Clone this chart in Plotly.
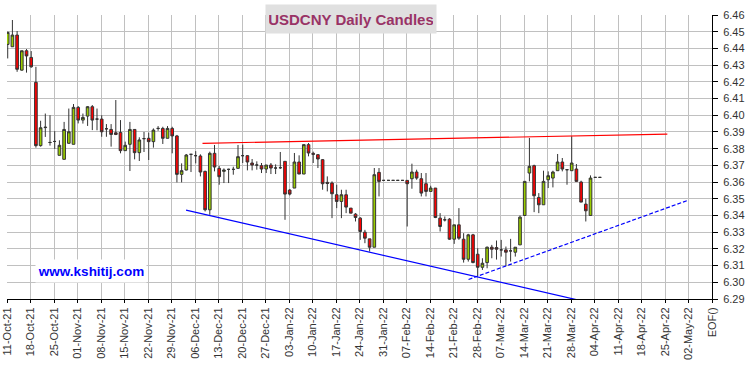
import plotly.graph_objects as go

# ---- data ----
# trading-day index 0 = Mon 11-Oct-21, weekdays only
open_ = [6.4424, 6.4410, 6.4480, 6.4270, 6.4386, 6.4346, 6.4197, 6.3818, 6.3926, 6.3837,
         6.3843, 6.3760, 6.3736, 6.3832, 6.3826, 6.4047, 6.3971, 6.3995, 6.4051, 6.3977,
         6.3977, 6.3919, 6.3915, 6.3895, 6.3897, 6.3788, 6.3826, 6.3915, 6.3776, 6.3860,
         6.3862, 6.3842, 6.3921, 6.3921, 6.3862, 6.3921, 6.3876, 6.3646, 6.3672, 6.3766,
         6.3758, 6.3756, 6.3664, 6.3434, 6.3772, 6.3682, 6.3664, 6.3676, 6.3676, 6.3682,
         6.3758, 6.3758, 6.3714, 6.3702, 6.3698, 6.3678, 6.3702, 6.3684, 6.3686, 6.3724,
         6.3552, 6.3564, 6.3720, 6.3648, 6.3824, 6.3772, 6.3764, 6.3734, 6.3598, 6.3594,
         6.3524, 6.3484, 6.3524, 6.3444, 6.3408, 6.3384, 6.3300, 6.3260, 6.3210, 6.3658,
         6.3610, 6.3610, 6.3610, 6.3610, 6.3610, 6.3610, 6.3620, 6.3660, 6.3620, 6.3590,
         6.3544, 6.3564, 6.3384, 6.3374, 6.3378, 6.3258, 6.3344, 6.3258, 6.3138, 6.3284,
         6.3168, 6.3090, 6.3118, 6.3210, 6.3208, 6.3194, 6.3194, 6.3188, 6.3180, 6.3224,
         6.3400, 6.3654, 6.3698, 6.3508, 6.3464, 6.3614, 6.3624, 6.3668, 6.3720, 6.3674,
         6.3668, 6.3678, 6.3600, 6.3468, 6.3400, 6.3628, 6.3628]
high = [6.4500, 6.4570, 6.4504, 6.4386, 6.4396, 6.4384, 6.4290, 6.3967, 6.4010, 6.4000,
        6.3905, 6.3850, 6.3960, 6.4040, 6.4067, 6.4055, 6.4010, 6.4055, 6.4061, 6.4040,
        6.4000, 6.3947, 6.3947, 6.4091, 6.3971, 6.3842, 6.3960, 6.3915, 6.3868, 6.3900,
        6.3896, 6.3921, 6.3935, 6.3931, 6.3935, 6.3931, 6.3882, 6.3712, 6.3768, 6.3768,
        6.3785, 6.3766, 6.3668, 6.3782, 6.3822, 6.3696, 6.3682, 6.3680, 6.3692, 6.3822,
        6.3824, 6.3760, 6.3738, 6.3724, 6.3714, 6.3702, 6.3714, 6.3706, 6.3780, 6.3724,
        6.3558, 6.3774, 6.3760, 6.3824, 6.3834, 6.3782, 6.3766, 6.3738, 6.3634, 6.3604,
        6.3584, 6.3554, 6.3554, 6.3444, 6.3414, 6.3390, 6.3314, 6.3260, 6.3684, 6.3684,
        6.3610, 6.3610, 6.3610, 6.3610, 6.3610, 6.3610, 6.3710, 6.3674, 6.3654, 6.3654,
        6.3578, 6.3564, 6.3414, 6.3394, 6.3384, 6.3344, 6.3444, 6.3294, 6.3290, 6.3290,
        6.3204, 6.3144, 6.3214, 6.3224, 6.3250, 6.3254, 6.3214, 6.3260, 6.3210, 6.3400,
        6.3604, 6.3864, 6.3704, 6.3534, 6.3668, 6.3664, 6.3668, 6.3768, 6.3744, 6.3674,
        6.3874, 6.3708, 6.3608, 6.3500, 6.3640, 6.3628, 6.3628]
low = [6.4340, 6.4410, 6.4260, 6.4267, 6.4255, 6.4284, 6.3806, 6.3812, 6.3870, 6.3818,
       6.3798, 6.3760, 6.3736, 6.3830, 6.3826, 6.3951, 6.3950, 6.3936, 6.3911, 6.3910,
       6.3871, 6.3871, 6.3812, 6.3881, 6.3772, 6.3788, 6.3666, 6.3736, 6.3726, 6.3780,
       6.3732, 6.3806, 6.3907, 6.3828, 6.3862, 6.3772, 6.3598, 6.3598, 6.3670, 6.3660,
       6.3712, 6.3634, 6.3424, 6.3404, 6.3664, 6.3584, 6.3594, 6.3594, 6.3644, 6.3682,
       6.3714, 6.3670, 6.3670, 6.3674, 6.3654, 6.3654, 6.3648, 6.3648, 6.3678, 6.3374,
       6.3520, 6.3564, 6.3648, 6.3648, 6.3754, 6.3714, 6.3684, 6.3554, 6.3544, 6.3384,
       6.3444, 6.3384, 6.3414, 6.3414, 6.3364, 6.3254, 6.3234, 6.3184, 6.3210, 6.3514,
       6.3610, 6.3610, 6.3610, 6.3610, 6.3610, 6.3334, 6.3560, 6.3614, 6.3514, 6.3514,
       6.3544, 6.3384, 6.3304, 6.3364, 6.3254, 6.3230, 6.3254, 6.3118, 6.3124, 6.3114,
       6.3038, 6.3074, 6.3084, 6.3144, 6.3136, 6.3154, 6.3100, 6.3124, 6.3154, 6.3224,
       6.3400, 6.3604, 6.3420, 6.3414, 6.3464, 6.3564, 6.3568, 6.3668, 6.3664, 6.3584,
       6.3668, 6.3604, 6.3480, 6.3364, 6.3400, 6.3628, 6.3628]
close = [6.4496, 6.4480, 6.4275, 6.4386, 6.4355, 6.4290, 6.3818, 6.3925, 6.3928, 6.3837,
         6.3843, 6.3820, 6.3915, 6.3901, 6.4047, 6.3971, 6.3987, 6.4051, 6.3971, 6.3977,
         6.3901, 6.3919, 6.3885, 6.3885, 6.3788, 6.3820, 6.3915, 6.3776, 6.3852, 6.3860,
         6.3842, 6.3911, 6.3921, 6.3862, 6.3921, 6.3876, 6.3646, 6.3668, 6.3762, 6.3766,
         6.3758, 6.3660, 6.3434, 6.3772, 6.3690, 6.3632, 6.3672, 6.3676, 6.3676, 6.3752,
         6.3758, 6.3720, 6.3702, 6.3702, 6.3678, 6.3702, 6.3684, 6.3684, 6.3686, 6.3528,
         6.3528, 6.3720, 6.3648, 6.3824, 6.3774, 6.3766, 6.3738, 6.3590, 6.3592, 6.3530,
         6.3484, 6.3524, 6.3450, 6.3414, 6.3388, 6.3304, 6.3264, 6.3210, 6.3644, 6.3604,
         6.3610, 6.3610, 6.3610, 6.3610, 6.3610, 6.3590, 6.3660, 6.3624, 6.3534, 6.3544,
         6.3564, 6.3388, 6.3334, 6.3374, 6.3258, 6.3344, 6.3264, 6.3138, 6.3284, 6.3118,
         6.3090, 6.3114, 6.3210, 6.3198, 6.3198, 6.3194, 6.3180, 6.3188, 6.3210, 6.3390,
         6.3604, 6.3694, 6.3518, 6.3464, 6.3604, 6.3638, 6.3660, 6.3720, 6.3678, 6.3674,
         6.3714, 6.3604, 6.3480, 6.3428, 6.3624, 6.3628, 6.3628]

tick_labels = ["11-Oct-21", "18-Oct-21", "25-Oct-21", "01-Nov-21", "08-Nov-21", "15-Nov-21",
               "22-Nov-21", "29-Nov-21", "06-Dec-21", "13-Dec-21", "20-Dec-21", "27-Dec-21",
               "03-Jan-22", "10-Jan-22", "17-Jan-22", "24-Jan-22", "31-Jan-22", "07-Feb-22",
               "14-Feb-22", "21-Feb-22", "28-Feb-22", "07-Mar-22", "14-Mar-22", "21-Mar-22",
               "28-Mar-22", "04-Apr-22", "11-Apr-22", "18-Apr-22", "25-Apr-22", "02-May-22",
               "EOF()"]
y_ticks = [6.29, 6.30, 6.31, 6.32, 6.33, 6.34, 6.35, 6.36, 6.37, 6.38,
           6.39, 6.40, 6.41, 6.42, 6.43, 6.44, 6.45, 6.46]
y_tick_text = ["%.2f" % v for v in y_ticks]

# trend lines (x in trading-day units, y in price)
red_line_x, red_line_y = [41.6, 140.5], [6.3832, 6.3887]
blue_line_x, blue_line_y = [38.1, 123.2], [6.3432, 6.2883]
blue_dash_x, blue_dash_y = [98.2, 145.0], [6.3017, 6.3492]

DAYS_PER_WEEK = 5
CANDLE_SHIFT = 0.15

x_idx = [i + CANDLE_SHIFT for i in range(len(open_))]
tick_vals = [k * DAYS_PER_WEEK for k in range(len(tick_labels))]

FONT = "Liberation Sans, Arial, sans-serif"

fig = go.Figure()
fig.add_trace(go.Candlestick(
    x=x_idx, open=open_, high=high, low=low, close=close,
    increasing=dict(fillcolor="#99cc00", line=dict(color="#333333", width=1)),
    decreasing=dict(fillcolor="#ff0000", line=dict(color="#333333", width=1)),
    whiskerwidth=0, hoverinfo="skip", showlegend=False,
))
fig.add_trace(go.Scatter(x=red_line_x, y=red_line_y, mode="lines",
                         line=dict(color="#ff0000", width=1.2), showlegend=False, hoverinfo="skip"))
fig.add_trace(go.Scatter(x=blue_line_x, y=blue_line_y, mode="lines",
                         line=dict(color="#0000ff", width=1.2), showlegend=False, hoverinfo="skip"))
fig.add_trace(go.Scatter(x=blue_dash_x, y=blue_dash_y, mode="lines",
                         line=dict(color="#0000ff", width=1.2, dash="4px,2px"),
                         showlegend=False, hoverinfo="skip"))

fig.update_layout(
    width=750, height=366, autosize=False,
    margin=dict(l=7, r=38, t=15, b=67, pad=0, autoexpand=False),
    paper_bgcolor="white", plot_bgcolor="white",
    boxgap=0.25, boxgroupgap=0.25,
    font=dict(family=FONT, size=11, color="#333333"),
    xaxis=dict(
        range=[0, 150], tickmode="array", tickvals=tick_vals, ticktext=tick_labels,
        tickangle=-90, showgrid=True, gridcolor="#c0c0c0", gridwidth=1,
        showline=True, linecolor="#000000", linewidth=1,
        ticks="outside", ticklen=3, tickcolor="#000000", automargin=False,
        ticklabeloverflow="allow",
        tickfont=dict(family=FONT, size=11, color="#333333"),
        rangeslider=dict(visible=False), zeroline=False, fixedrange=True,
    ),
    yaxis=dict(
        range=[6.29, 6.46], side="right", tickmode="array", tickvals=y_ticks,
        ticktext=y_tick_text, showgrid=True, gridcolor="#c0c0c0", gridwidth=1,
        showline=True, linecolor="#000000", linewidth=1, automargin=False,
        ticks="outside", ticklen=5, tickcolor="#000000", ticklabelstandoff=3,
        ticklabeloverflow="allow",
        tickfont=dict(family=FONT, size=11, color="#333333"),
        zeroline=False, fixedrange=True,
    ),
    annotations=[
        dict(text="<b>USDCNY Daily Candles</b>", xref="paper", yref="paper",
             x=0.4877, y=0.985, xanchor="center", yanchor="middle", showarrow=False,
             font=dict(family=FONT, size=15, color="#993366"),
             bgcolor="#e0e0e0", width=164, height=22, borderpad=3),
        dict(text="<b>www.kshitij.com</b>", xref="paper", yref="paper",
             x=0.1196, y=0.098, xanchor="center", yanchor="middle", showarrow=False,
             font=dict(family=FONT, size=13.5, color="#0000ff"),
             bgcolor="#ffffff", width=106, height=18, borderpad=2),
    ],
)

# remove the browser's default 8px page margin so the 750x366 figure fills the window
fig.write_html("out.html", config={"displayModeBar": False},
               post_script="document.body.style.margin='0px';")
